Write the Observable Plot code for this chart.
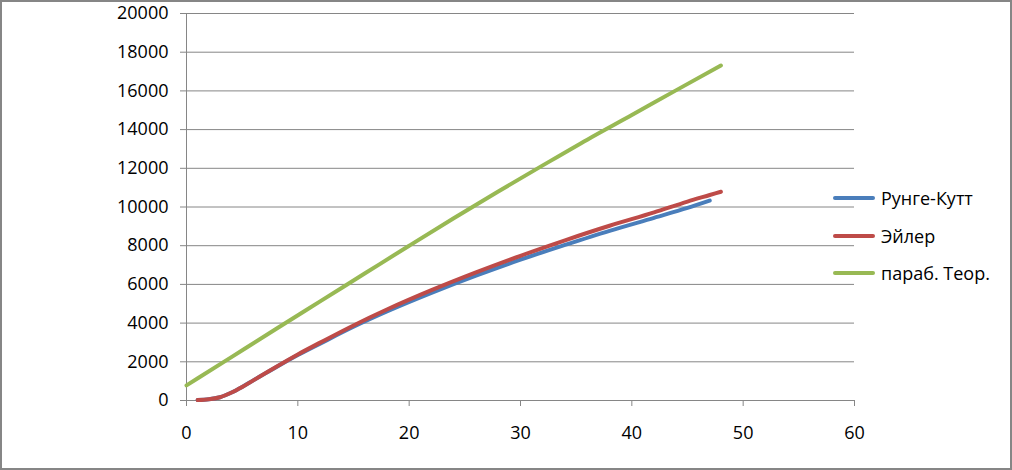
<!DOCTYPE html>
<html>
<head>
<meta charset="utf-8">
<script src="https://cdn.jsdelivr.net/npm/d3@7"></script>
<script src="https://cdn.jsdelivr.net/npm/@observablehq/plot@0.6"></script>
<style>
  html, body { margin: 0; padding: 0; background: #fff; }
  #wrap { position: relative; width: 1012px; height: 470px; overflow: hidden; font-family: "Open Sans", sans-serif; }
  #frame { position: absolute; left: 0; top: 0; width: 1012px; height: 470px; box-sizing: border-box; border: 2px solid #868686; pointer-events: none; }
  #legend { position: absolute; left: 833px; top: 0; }
  .item { position: absolute; left: 0; display: flex; align-items: center; white-space: nowrap; font-size: 18px; color: #000; transform: translateY(-50%); }
  .swatch { width: 42px; height: 4px; border-radius: 2px; margin-right: 6px; }
</style>
</head>
<body>
<div id="wrap">
  <div id="chart"></div>
  <div id="legend"></div>
  <div id="frame"></div>
</div>
<script>
// Series names
const seriesNames = ["Рунге-Кутт", "Эйлер", "параб. Теор."];
const seriesColors = ["#4a7ebb", "#be4b48", "#98b954"];

// Рунге-Кутт
const rkX = [1, 2, 3, 4, 5, 6, 7, 8, 10, 12, 15, 18, 22, 26, 30, 34, 38, 42, 45, 47];
const rkY = [20, 60, 170, 400, 700, 1040, 1375, 1710, 2350, 2940, 3810, 4600, 5560, 6450, 7280, 8040, 8770, 9440, 9950, 10330];

// Эйлер
const euX = [1, 2, 3, 4, 5, 6, 7, 8, 10, 12, 15, 18, 22, 26, 30, 34, 38, 42, 45, 47, 48];
const euY = [20, 60, 170, 400, 700, 1040, 1380, 1720, 2380, 2990, 3880, 4700, 5700, 6620, 7480, 8280, 9030, 9720, 10280, 10620, 10790];

// параб. Теор.
const thX = [0, 4, 8, 12, 16, 20, 24, 28, 32, 36, 40, 44, 48];
const thY = [780, 2230, 3680, 5120, 6560, 8000, 9420, 10800, 12150, 13480, 14750, 16040, 17310];

// Axis ticks
const xTicks = [0, 10, 20, 30, 40, 50, 60];
const yTicks = [0, 2000, 4000, 6000, 8000, 10000, 12000, 14000, 16000, 18000, 20000];

const rows = [];
rkX.forEach((x, i) => rows.push({series: seriesNames[0], x, y: rkY[i]}));
euX.forEach((x, i) => rows.push({series: seriesNames[1], x, y: euY[i]}));
thX.forEach((x, i) => rows.push({series: seriesNames[2], x, y: thY[i]}));

const grid = "#868686";

const chart = Plot.plot({
  width: 1012,
  height: 470,
  marginLeft: 186,
  marginRight: 158,
  marginTop: 13,
  marginBottom: 70,
  style: {fontFamily: "Open Sans, sans-serif", fontSize: "18px", color: "#000", background: "transparent", overflow: "visible"},
  x: {domain: [0, 60], ticks: xTicks},
  y: {domain: [0, 20000], ticks: yTicks},
  color: {domain: seriesNames, range: seriesColors},
  marks: [
    Plot.gridY(yTicks, {stroke: grid, strokeOpacity: 1, strokeWidth: 1}),
    Plot.ruleX([0], {stroke: grid, strokeWidth: 1}),
    Plot.ruleY([0], {stroke: grid, strokeWidth: 1}),
    Plot.axisX(xTicks, {tickSize: 6, tickPadding: 20, stroke: grid, label: null, tickFormat: d => String(d)}),
    Plot.axisY(yTicks, {tickSize: 6, tickPadding: 12, stroke: grid, label: null, tickFormat: d => String(d)}),
    Plot.line(rows, {x: "x", y: "y", z: "series", stroke: "series", strokeWidth: 4, curve: "monotone-x", strokeLinecap: "round", strokeLinejoin: "round"})
  ]
});
document.getElementById("chart").appendChild(chart);

// Legend (HTML, real text)
const legend = document.getElementById("legend");
const legendTops = [198, 236, 273];
seriesNames.forEach((name, i) => {
  const item = document.createElement("div");
  item.className = "item";
  item.style.top = legendTops[i] + "px";
  const sw = document.createElement("span");
  sw.className = "swatch";
  sw.style.background = seriesColors[i];
  const t = document.createElement("span");
  t.textContent = name;
  item.appendChild(sw);
  item.appendChild(t);
  legend.appendChild(item);
});
</script>
</body>
</html>
